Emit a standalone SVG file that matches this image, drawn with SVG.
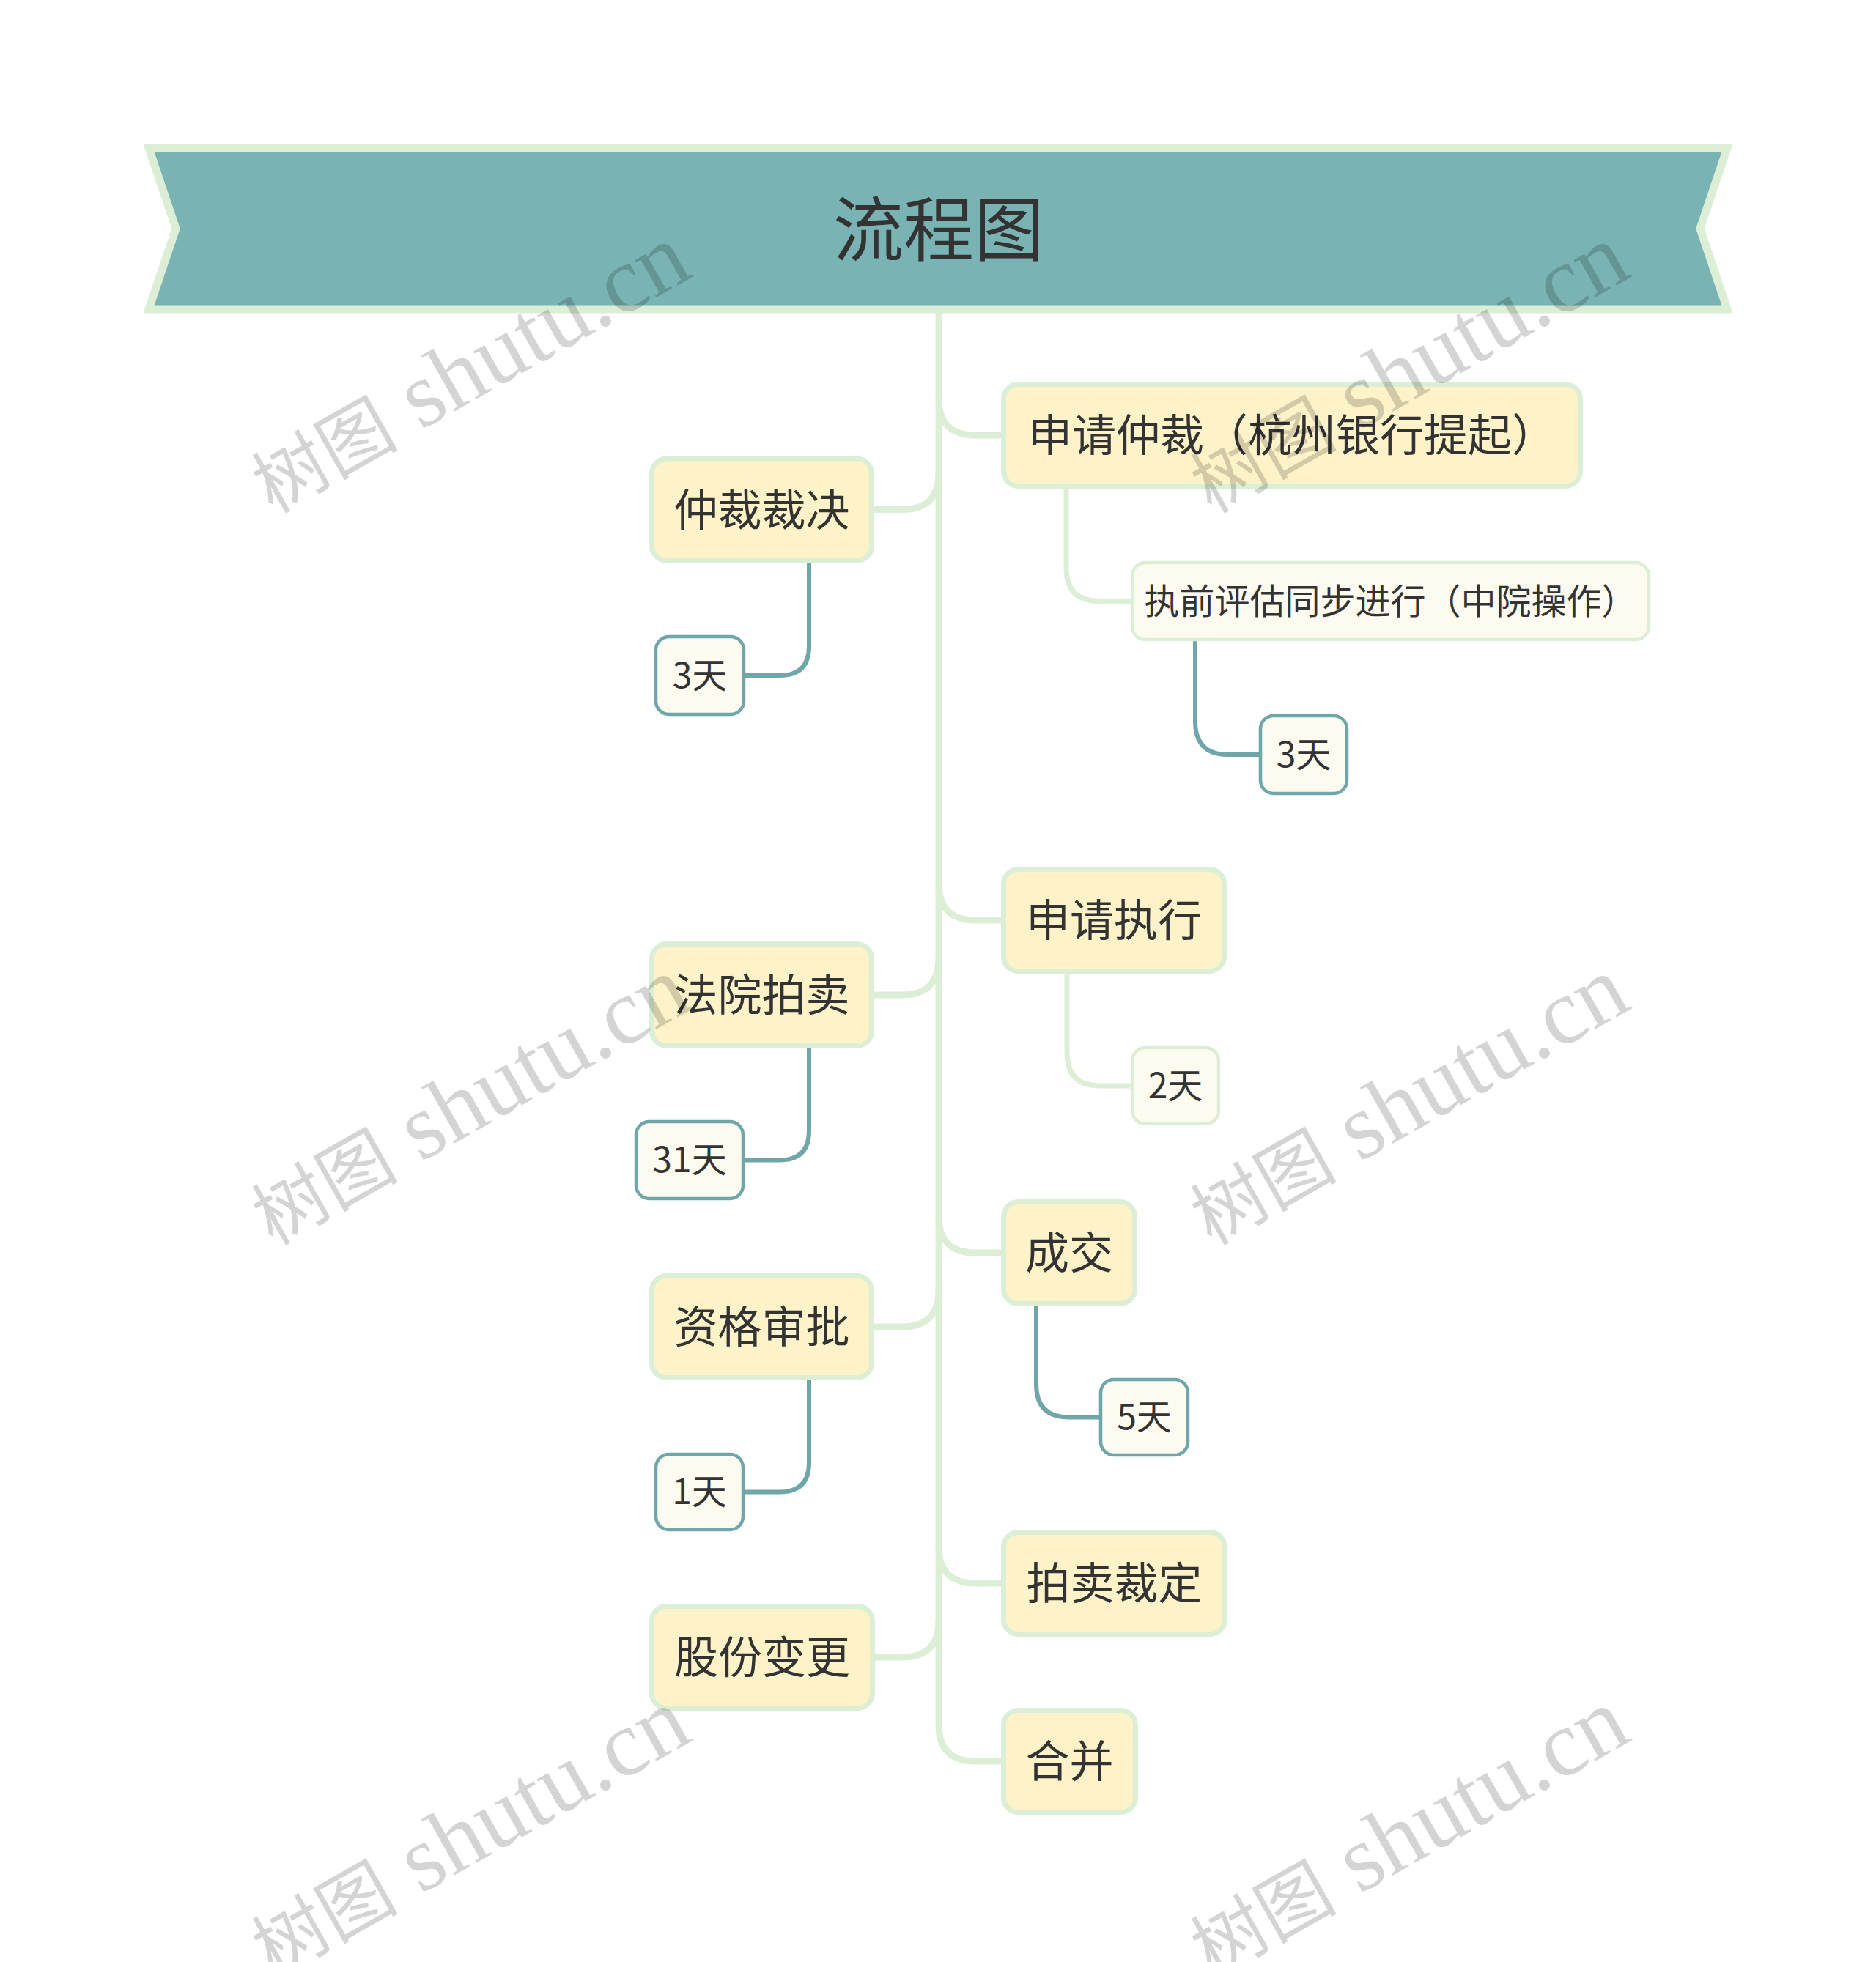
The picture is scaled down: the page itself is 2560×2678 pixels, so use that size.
<svg xmlns="http://www.w3.org/2000/svg" width="2560" height="2678" viewBox="0 0 2560 2678">
<style>
.main{fill:#fef2c8;stroke:#dcefd6;stroke-width:7}
.subg{fill:#fdfbf0;stroke:#dcefd6;stroke-width:4.5}
.subt{fill:#fdfbf0;stroke:#6ea6a9;stroke-width:4.5}
.t{font-family:"Noto Sans CJK SC","Noto Sans",sans-serif;fill:#333333;text-anchor:middle}
.tm{font-size:60px}
.ts{font-size:48px}
.cg{fill:none;stroke:#dcefd6;stroke-width:9;stroke-linecap:butt}
.cs{fill:none;stroke:#dcefd6;stroke-width:7}
.ct{fill:none;stroke:#6ea6a9;stroke-width:6}
.wm{font-family:"Liberation Serif","Noto Sans CJK SC",serif;font-size:128px;fill:#000000;fill-opacity:0.17}
</style>
<rect width="2560" height="2678" fill="#ffffff"/>
<g id="banner">
<polygon points="203,202 2357,202 2320,312 2357,422 203,422 240,312" fill="#7ab3b4" stroke="#dcefd6" stroke-width="11"/>
<text x="1281" y="348" class="t" style="font-size:96px">流程图</text>
</g>
<g id="connectors">
<path class="cg" d="M1281,425 V2354 Q1281,2404 1331,2404 H1370"/>
<path class="cg" d="M1281,544 Q1281,594 1331,594 H1370"/>
<path class="cg" d="M1281,1206 Q1281,1256 1331,1256 H1370"/>
<path class="cg" d="M1281,1660 Q1281,1710 1331,1710 H1370"/>
<path class="cg" d="M1281,2111 Q1281,2161 1331,2161 H1370"/>
<path class="cg" d="M1281,645.5 Q1281,695.5 1231,695.5 H1190"/>
<path class="cg" d="M1281,1308 Q1281,1358 1231,1358 H1190"/>
<path class="cg" d="M1281,1761 Q1281,1811 1231,1811 H1190"/>
<path class="cg" d="M1281,2212 Q1281,2262 1231,2262 H1190"/>
<path class="cs" d="M1455,665 V775.5 Q1455,820.5 1500,820.5 H1546"/>
<path class="ct" d="M1631,873 V985 Q1631,1030 1676,1030 H1721"/>
<path class="ct" d="M1104,766 V882 Q1104,922 1064,922 H1014"/>
<path class="cs" d="M1456,1327 V1437 Q1456,1482 1501,1482 H1546"/>
<path class="ct" d="M1104,1428 V1543.5 Q1104,1583.5 1064,1583.5 H1013"/>
<path class="ct" d="M1414,1780 V1889.5 Q1414,1934.5 1459,1934.5 H1503"/>
<path class="ct" d="M1104,1881 V1996.5 Q1104,2036.5 1064,2036.5 H1013"/>
</g>
<g id="n1"><rect class="main" x="1369.5" y="524.5" width="787" height="139" rx="20"/><text class="t tm" x="1763" y="616">申请仲裁（杭州银行提起）</text></g>
<g id="n2"><rect class="main" x="889.5" y="626" width="300" height="139" rx="20"/><text class="t tm" x="1039.5" y="717.5">仲裁裁决</text></g>
<g id="n3"><rect class="subg" x="1545" y="768" width="705" height="105" rx="18"/><text class="t ts" x="1897.5" y="837.5">执前评估同步进行（中院操作）</text></g>
<g id="n4"><rect class="subt" x="895" y="869" width="120" height="106" rx="18"/><text class="t ts" x="955" y="939">3天</text></g>
<g id="n5"><rect class="subt" x="1720" y="977" width="118" height="106" rx="18"/><text class="t ts" x="1779" y="1047">3天</text></g>
<g id="n6"><rect class="main" x="1369.5" y="1186.5" width="301" height="139" rx="20"/><text class="t tm" x="1520" y="1278">申请执行</text></g>
<g id="n7"><rect class="main" x="889.5" y="1288.5" width="300" height="139" rx="20"/><text class="t tm" x="1039.5" y="1380">法院拍卖</text></g>
<g id="n8"><rect class="subg" x="1545" y="1430" width="118" height="104" rx="18"/><text class="t ts" x="1604" y="1499">2天</text></g>
<g id="n9"><rect class="subt" x="868" y="1531" width="146" height="105" rx="18"/><text class="t ts" x="941" y="1600">31天</text></g>
<g id="n10"><rect class="main" x="1369.5" y="1640.5" width="179" height="139" rx="20"/><text class="t tm" x="1459" y="1732">成交</text></g>
<g id="n11"><rect class="main" x="889.5" y="1741.5" width="300" height="139" rx="20"/><text class="t tm" x="1039.5" y="1833">资格审批</text></g>
<g id="n12"><rect class="subt" x="1502" y="1883" width="119" height="103" rx="18"/><text class="t ts" x="1561.5" y="1951">5天</text></g>
<g id="n13"><rect class="subt" x="895" y="1985" width="119" height="103" rx="18"/><text class="t ts" x="954.5" y="2053">1天</text></g>
<g id="n14"><rect class="main" x="1369.5" y="2091.5" width="302" height="139" rx="20"/><text class="t tm" x="1520.5" y="2183">拍卖裁定</text></g>
<g id="n15"><rect class="main" x="889.5" y="2192.5" width="301" height="139" rx="20"/><text class="t tm" x="1040" y="2284">股份变更</text></g>
<g id="n16"><rect class="main" x="1369.5" y="2334.5" width="180" height="139" rx="20"/><text class="t tm" x="1459.5" y="2426">合并</text></g>
<g id="watermarks">
<text class="wm" x="372" y="702" transform="rotate(-29.5 372 702)"><tspan style="font-size:100px">树图</tspan> shutu.cn</text>
<text class="wm" x="1653" y="702" transform="rotate(-29.5 1653 702)"><tspan style="font-size:100px">树图</tspan> shutu.cn</text>
<text class="wm" x="372" y="1701" transform="rotate(-29.5 372 1701)"><tspan style="font-size:100px">树图</tspan> shutu.cn</text>
<text class="wm" x="1653" y="1701" transform="rotate(-29.5 1653 1701)"><tspan style="font-size:100px">树图</tspan> shutu.cn</text>
<text class="wm" x="372" y="2700" transform="rotate(-29.5 372 2700)"><tspan style="font-size:100px">树图</tspan> shutu.cn</text>
<text class="wm" x="1653" y="2700" transform="rotate(-29.5 1653 2700)"><tspan style="font-size:100px">树图</tspan> shutu.cn</text>
</g>
</svg>
